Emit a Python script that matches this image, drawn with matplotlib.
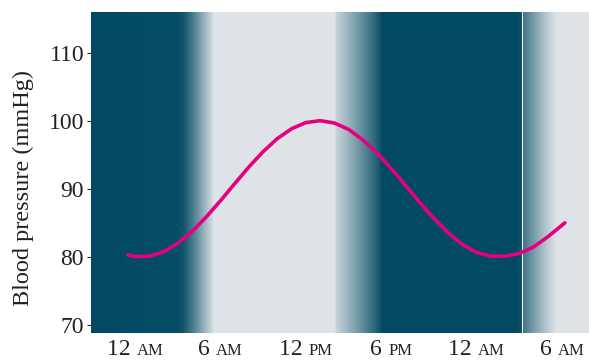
import numpy as np
import matplotlib
matplotlib.use("Agg")
import matplotlib.pyplot as plt
from matplotlib.colors import LinearSegmentedColormap
from matplotlib.offsetbox import TextArea, HPacker, AnnotationBbox

# ---- data ----
hours = [-0.5, 0, 1, 2, 3, 4, 5, 6, 7, 8, 9, 10, 11, 12, 13, 14, 15, 16, 17,
         18, 19, 20, 21, 22, 23, 24, 25, 26, 27, 28, 29, 30, 30.2]
pressure = [80.28, 80.06, 80.10, 80.75, 81.99, 83.72, 85.86, 88.25, 90.75,
            93.21, 95.46, 97.38, 98.82, 99.72, 100.0, 99.66, 98.73, 97.19,
            95.25, 92.98, 90.51, 88.01, 85.64, 83.54, 81.82, 80.65, 80.12,
            80.10, 80.50, 81.45, 82.95, 84.65, 85.0]

tick_hours = [0, 6, 12, 18, 24, 30]
tick_nums = ["12", "6", "12", "6", "12", "6"]
tick_periods = ["AM", "AM", "PM", "PM", "AM", "AM"]
y_ticks = [70, 80, 90, 100, 110]

# ---- style ----
DARK = "#024a63"
LIGHT = "#dee3e7"
LINE = "#e6007e"
TEXT = "#222222"
FONT = "Liberation Serif"
plt.rcParams["font.family"] = [FONT, "DejaVu Serif"]

xlim = (-3.1, 31.9)
ylim = (68.87, 116.0)

fig = plt.figure(figsize=(5.89, 3.60), dpi=100)
ax = fig.add_axes([91 / 589, 1 - 332.7 / 360, 1 - 91 / 589, (332.7 - 11.7) / 360])
ax.set_facecolor("white")

cmap = LinearSegmentedColormap.from_list("daynight", [DARK, LIGHT])

# brightness profile of the background (0 = night, 1 = day)
prof1_x = [xlim[0], 2.95, 3.4, 3.9, 4.4, 4.8, 5.15, 5.45, 5.5,
           14.0, 14.1, 15.0, 16.0, 16.8, 17.25, 17.3, 26.8, 27.15]
prof1_f = [0, 0.02, 0.08, 0.27, 0.48, 0.66, 0.82, 0.95, 1.0,
           1.0, 0.9, 0.68, 0.42, 0.2, 0.05, 0, 0, 0.06]
prof2_x = [27.25, 27.6, 28.2, 28.8, 29.3, 29.55, xlim[1]]
prof2_f = [0.27, 0.4, 0.6, 0.8, 0.93, 1.0, 1.0]

def band(x0, x1, px, pf):
    xs = np.linspace(x0, x1, 1200)
    f = np.interp(xs, px, pf)
    img = np.vstack([f, f])
    ax.imshow(img, cmap=cmap, vmin=0, vmax=1, aspect="auto",
              extent=[x0, x1, ylim[0], ylim[1]], interpolation="nearest",
              zorder=0)

band(xlim[0], 27.15, prof1_x, prof1_f)
band(27.25, xlim[1], prof2_x, prof2_f)

ax.plot(hours, pressure, color=LINE, lw=2.6, solid_capstyle="round",
        solid_joinstyle="round", zorder=3)

ax.set_xlim(*xlim)
ax.set_ylim(*ylim)
for s in ax.spines.values():
    s.set_visible(False)

ax.set_yticks(y_ticks)
ax.set_yticklabels([str(v) for v in y_ticks])
ax.tick_params(axis="y", length=3, width=0.8, pad=2, colors=TEXT,
               labelsize=17)
for lab in ax.get_yticklabels():
    lab.set_family(FONT)

ax.set_xticks([])
for h, n, p in zip(tick_hours, tick_nums, tick_periods):
    ta1 = TextArea(n + " ", textprops=dict(size=17, color=TEXT, family=FONT))
    ta2 = TextArea(p, textprops=dict(size=12, color=TEXT, family=FONT))
    pack = HPacker(children=[ta1, ta2], align="baseline", pad=0, sep=0)
    ab = AnnotationBbox(pack, (h, 0), xycoords=("data", "axes fraction"),
                        xybox=(0, -4.5), boxcoords="offset points",
                        box_alignment=(0.5, 1), frameon=False,
                        annotation_clip=False)
    ax.add_artist(ab)

fig.text(23.3 / 589, 1 - 188 / 360, "Blood pressure (mmHg)", rotation=90,
         ha="center", va="center", fontsize=17.5, color=TEXT, family=FONT)

fig.savefig("out.png", dpi=100)
